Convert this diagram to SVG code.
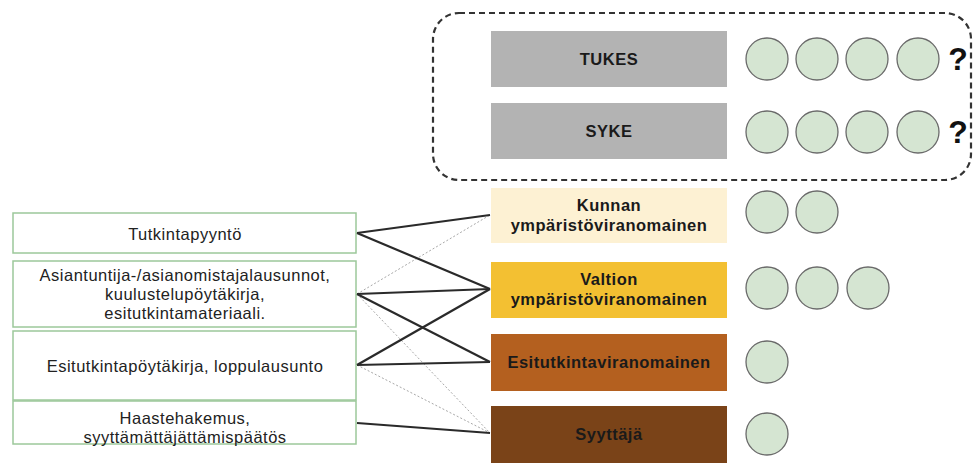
<svg xmlns="http://www.w3.org/2000/svg" width="973" height="463" viewBox="0 0 973 463">
<style>
.lbl{font-family:"Liberation Sans",Arial,sans-serif;font-size:16.5px;font-weight:bold;fill:#1a1a1a;text-anchor:middle;letter-spacing:0.5px}
.txt{font-family:"Liberation Sans",Arial,sans-serif;font-size:16.5px;fill:#222;text-anchor:middle;letter-spacing:0.5px}
.src{fill:#fff;stroke:#9cc89a;stroke-width:1.5}
.dot{fill:#d5e5d2;stroke:#6a6a6a;stroke-width:1.3}
.q{font-family:"Liberation Sans",Arial,sans-serif;font-size:32px;font-weight:bold;fill:#111;text-anchor:middle}
.solid{stroke:#2a2a2a;stroke-width:2.2;fill:none}
.faint{stroke:#a8a8a8;stroke-width:1;stroke-dasharray:2,2;fill:none}
</style>
<rect width="973" height="463" fill="#fff"/>
<rect x="433" y="13" width="538" height="167" rx="26" ry="26" fill="none" stroke="#333" stroke-width="2.2" stroke-dasharray="6,4"/>

<g id="tukes">
<rect x="491" y="31" width="236" height="56" fill="#b3b3b3"/>
<text class="lbl" x="609" y="65">TUKES</text>
<circle class="dot" cx="767" cy="59" r="21"/><circle class="dot" cx="817" cy="59" r="21"/><circle class="dot" cx="867" cy="59" r="21"/><circle class="dot" cx="918" cy="59" r="21"/>
<text class="q" x="958" y="70">?</text>
</g>
<g id="syke">
<rect x="491" y="103" width="236" height="56" fill="#b3b3b3"/>
<text class="lbl" x="609" y="137">SYKE</text>
<circle class="dot" cx="767" cy="132" r="21"/><circle class="dot" cx="817" cy="132" r="21"/><circle class="dot" cx="867" cy="132" r="21"/><circle class="dot" cx="918" cy="132" r="21"/>
<text class="q" x="958" y="143">?</text>
</g>

<g id="kunnan">
<rect x="491" y="188" width="236" height="55" fill="#fdf1d3"/>
<text class="lbl" x="609" y="211">Kunnan</text>
<text class="lbl" x="609" y="231">ympäristöviranomainen</text>
<circle class="dot" cx="767" cy="212" r="21"/><circle class="dot" cx="817" cy="212" r="21"/>
</g>
<g id="valtion">
<rect x="491" y="262" width="236" height="56" fill="#f3c032"/>
<text class="lbl" x="609" y="285">Valtion</text>
<text class="lbl" x="609" y="305">ympäristöviranomainen</text>
<circle class="dot" cx="767" cy="288" r="21"/><circle class="dot" cx="817" cy="288" r="21"/><circle class="dot" cx="868" cy="288" r="21"/>
</g>
<g id="esitutkinta">
<rect x="491" y="334" width="236" height="57" fill="#b4601f"/>
<text class="lbl" x="609" y="368">Esitutkintaviranomainen</text>
<circle class="dot" cx="767" cy="362" r="21"/>
</g>
<g id="syyttaja">
<rect x="491" y="406" width="236" height="57" fill="#7a4318"/>
<text class="lbl" x="609" y="440">Syyttäjä</text>
<circle class="dot" cx="767" cy="434" r="21"/>
</g>

<g id="tutkintapyynto">
<rect class="src" x="13" y="213" width="343" height="40"/>
<text class="txt" x="185" y="240">Tutkintapyyntö</text>
</g>
<g id="asiantuntija">
<rect class="src" x="13" y="261" width="343" height="66"/>
<text class="txt" x="185" y="281">Asiantuntija-/asianomistajalausunnot,</text>
<text class="txt" x="185" y="300">kuulustelupöytäkirja,</text>
<text class="txt" x="185" y="319">esitutkintamateriaali.</text>
</g>
<g id="esitutkintapoytakirja">
<rect class="src" x="13" y="331" width="343" height="69"/>
<text class="txt" x="185" y="372">Esitutkintapöytäkirja, loppulausunto</text>
</g>
<g id="haastehakemus">
<rect class="src" x="13" y="401" width="343" height="43"/>
<text class="txt" x="185" y="424">Haastehakemus,</text>
<text class="txt" x="185" y="443">syyttämättäjättämispäätös</text>
</g>

<g id="connectors">
<line class="faint" x1="357" y1="294" x2="490" y2="215"/>
<line class="faint" x1="357" y1="294" x2="490" y2="433"/>
<line class="faint" x1="357" y1="365" x2="490" y2="433"/>
<line class="solid" x1="357" y1="233" x2="490" y2="215"/>
<line class="solid" x1="357" y1="233" x2="490" y2="289"/>
<line class="solid" x1="357" y1="294" x2="490" y2="289"/>
<line class="solid" x1="357" y1="294" x2="490" y2="362"/>
<line class="solid" x1="357" y1="365" x2="490" y2="289"/>
<line class="solid" x1="357" y1="365" x2="490" y2="362"/>
<line class="solid" x1="357" y1="423" x2="490" y2="433"/>
</g>
</svg>
